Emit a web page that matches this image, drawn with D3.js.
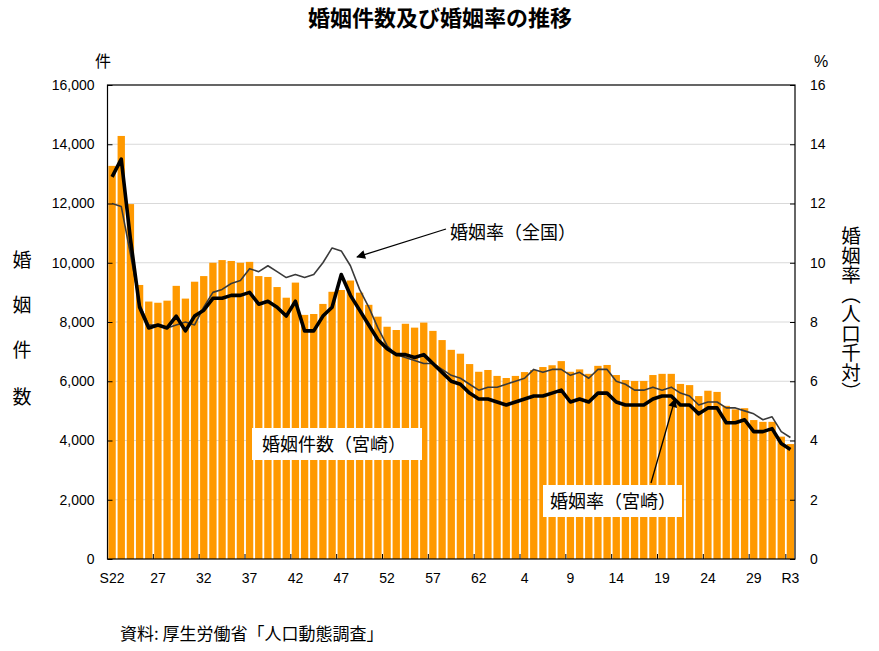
<!DOCTYPE html>
<html><head><meta charset="utf-8">
<script src="https://cdn.jsdelivr.net/npm/d3@7/dist/d3.min.js"></script>
<style>
html,body{margin:0;padding:0;background:#fff;}
svg{display:block;font-family:"Noto Sans CJK JP","Noto Sans",sans-serif;}
.num{font-family:"Liberation Sans Narrow","Arial Narrow","Liberation Sans",sans-serif;font-size:14px;}
</style></head>
<body>
<svg id="chart" width="879" height="651"></svg>
<script>
// ---- data ----
const categories = [
 "S22","S23","S24","S25","S26","S27","S28","S29","S30","S31","S32","S33","S34","S35","S36","S37","S38","S39","S40","S41",
 "S42","S43","S44","S45","S46","S47","S48","S49","S50","S51","S52","S53","S54","S55","S56","S57","S58","S59","S60","S61",
 "S62","S63","H1","H2","H3","H4","H5","H6","H7","H8","H9","H10","H11","H12","H13","H14","H15","H16","H17","H18",
 "H19","H20","H21","H22","H23","H24","H25","H26","H27","H28","H29","H30","R1","R2","R3"];
const marriagesMiyazaki = [
 13270,14280,11980,9250,8690,8650,8720,9220,8790,9360,9550,10000,10090,10060,10000,10030,9550,9520,9180,8820,
 9330,8240,8270,8610,9020,9080,9400,8990,8580,8180,7840,7730,7940,7810,7980,7700,7390,7060,6930,6580,
 6320,6380,6180,6110,6180,6310,6380,6480,6540,6680,6320,6400,6250,6520,6550,6210,6040,6010,6010,6210,
 6250,6250,5910,5870,5500,5680,5640,5170,5050,5090,4690,4630,4630,4130,3880];
const rateMiyazaki = [
 12.9,13.5,10.8,8.5,7.8,7.9,7.8,8.2,7.7,8.2,8.4,8.8,8.8,8.9,8.9,9.0,8.6,8.7,8.5,8.2,
 8.7,7.7,7.7,8.2,8.5,9.6,8.9,8.4,7.9,7.4,7.1,6.9,6.9,6.8,6.9,6.6,6.3,6.0,5.9,5.6,
 5.4,5.4,5.3,5.2,5.3,5.4,5.5,5.5,5.6,5.7,5.3,5.4,5.3,5.6,5.6,5.3,5.2,5.2,5.2,5.4,
 5.5,5.5,5.2,5.2,4.9,5.1,5.1,4.6,4.6,4.7,4.3,4.3,4.4,3.9,3.7];
const rateNational = [
 12.0,11.9,10.3,8.6,7.9,7.9,7.8,7.9,8.0,7.9,8.5,9.0,9.1,9.3,9.4,9.8,9.7,9.9,9.7,9.5,
 9.6,9.5,9.6,10.0,10.5,10.4,9.9,9.1,8.5,7.8,7.2,6.9,6.8,6.7,6.6,6.6,6.4,6.2,6.1,5.9,
 5.7,5.8,5.8,5.9,6.0,6.1,6.4,6.3,6.4,6.4,6.2,6.3,6.1,6.4,6.4,6.0,5.9,5.7,5.7,5.8,
 5.7,5.8,5.6,5.5,5.2,5.3,5.3,5.1,5.1,5.0,4.9,4.7,4.8,4.3,4.1];
const xTickCategories = ["S22","S27","S32","S37","S42","S47","S52","S57","S62","H4","H9","H14","H19","H24","H29","R3"];
const xTickLabels     = ["S22","27","32","37","42","47","52","57","62","4","9","14","19","24","29","R3"];
const leftTicks  = [0,2000,4000,6000,8000,10000,12000,14000,16000];
const rightTicks = [0,2,4,6,8,10,12,14,16];

// ---- layout ----
const L=107.5, R=795, T=85, B=559;
const svg = d3.select("#chart");

const x = d3.scaleBand().domain(categories).range([L,R]).paddingInner(0.2).paddingOuter(0.1);
const yL = d3.scaleLinear().domain([0,16000]).range([B,T]);
const yR = d3.scaleLinear().domain([0,16]).range([B,T]);
const cx = c => x(c) + x.bandwidth()/2;

// gridlines
svg.append("g").selectAll("line").data(leftTicks.filter(d=>d>0&&d<16000)).join("line")
  .attr("x1",L).attr("x2",R).attr("y1",d=>yL(d)).attr("y2",d=>yL(d))
  .attr("stroke","#d9d9d9").attr("stroke-width",1);

// bars
svg.append("g").selectAll("rect").data(categories).join("rect")
  .attr("x",c=>x(c)).attr("width",x.bandwidth())
  .attr("y",(c,i)=>yL(marriagesMiyazaki[i]))
  .attr("height",(c,i)=>B - yL(marriagesMiyazaki[i]))
  .attr("fill","#ff9900");

// lines
const line = d3.line().x(d=>cx(d.c)).y(d=>yR(d.v));
svg.append("path").datum(categories.map((c,i)=>({c,v:rateNational[i]})))
  .attr("d",line).attr("fill","none").attr("stroke","#3a3a3a").attr("stroke-width",1.6).attr("stroke-linejoin","round");
svg.append("path").datum(categories.map((c,i)=>({c,v:rateMiyazaki[i]})))
  .attr("d",line).attr("fill","none").attr("stroke","#000").attr("stroke-width",3.6).attr("stroke-linejoin","round");

// frame
svg.append("rect").attr("x",L).attr("y",T).attr("width",R-L).attr("height",B-T)
  .attr("fill","none").attr("stroke","#000").attr("stroke-width",1.2);

// left axis
const gl = svg.append("g").attr("transform",`translate(${L},0)`)
  .call(d3.axisLeft(yL).tickValues(leftTicks).tickSizeInner(-5).tickSizeOuter(0).tickPadding(13).tickFormat(d3.format(",")));
gl.select(".domain").remove();
gl.selectAll("text").attr("class","num").attr("fill","#000");
gl.selectAll("line").attr("stroke","#000");
gl.attr("font-family",null).attr("font-size",null);

// right axis
const gr = svg.append("g").attr("transform",`translate(${R},0)`)
  .call(d3.axisRight(yR).tickValues(rightTicks).tickSizeInner(-5).tickSizeOuter(0).tickPadding(15));
gr.select(".domain").remove();
gr.selectAll("text").attr("class","num").attr("fill","#000");
gr.selectAll("line").attr("stroke","#000");
gr.attr("font-family",null).attr("font-size",null);

// bottom ticks (every 5 categories, at band boundaries)
const half = x.step()*x.paddingInner()/2;
svg.append("g").selectAll("line").data(xTickCategories.slice(1)).join("line")
  .attr("x1",c=>x(c)-half).attr("x2",c=>x(c)-half).attr("y1",B).attr("y2",B-5)
  .attr("stroke","#000");
svg.append("g").selectAll("text").data(xTickCategories).join("text")
  .attr("class","num").attr("x",c=>cx(c)).attr("y",583).attr("text-anchor","middle")
  .text((c,i)=>xTickLabels[i]);

// title
svg.append("text").attr("x",440).attr("y",26).attr("text-anchor","middle")
  .attr("font-size",22).attr("font-weight","bold").text("婚姻件数及び婚姻率の推移");

// unit labels
svg.append("text").attr("x",103).attr("y",67).attr("text-anchor","middle").attr("font-size",16).text("件");
svg.append("text").attr("x",821).attr("y",67).attr("text-anchor","middle").attr("class","num").style("font-size","16px").text("%");

// left vertical label
const leftChars = ["婚","姻","件","数"];
const leftY = [258,303,348,395];
svg.append("g").selectAll("text").data(leftChars).join("text")
  .attr("x",22).attr("y",(d,i)=>leftY[i]).attr("dominant-baseline","central").attr("text-anchor","middle")
  .attr("font-size",19).text(d=>d);

// right vertical label
svg.append("text").attr("x",851).attr("y",226)
  .style("writing-mode","vertical-rl").attr("font-size",19.5)
  .text("婚姻率（人口千対）");

// annotation: national
svg.append("text").attr("x",450).attr("y",239).attr("font-size",18).text("婚姻率（全国）");
svg.append("defs").append("marker").attr("id","ah").attr("viewBox","0 0 10 10").attr("refX",9).attr("refY",5)
  .attr("markerWidth",11).attr("markerHeight",9).attr("markerUnits","userSpaceOnUse").attr("orient","auto")
  .append("path").attr("d","M0,0 L10,5 L0,10 z").attr("fill","#000");
svg.append("line").attr("x1",446).attr("y1",229).attr("x2",357).attr("y2",257)
  .attr("stroke","#000").attr("stroke-width",1.3).attr("marker-end","url(#ah)");

// annotation: Miyazaki count
svg.append("rect").attr("x",252).attr("y",428).attr("width",170).attr("height",32).attr("fill","#fff");
svg.append("text").attr("x",262).attr("y",451).attr("font-size",18).text("婚姻件数（宮崎）");

// annotation: Miyazaki rate
svg.append("line").attr("x1",651).attr("y1",483).attr("x2",675).attr("y2",399)
  .attr("stroke","#000").attr("stroke-width",1.3).attr("marker-end","url(#ah)");
svg.append("rect").attr("x",543).attr("y",485).attr("width",139).attr("height",32).attr("fill","#fff");
svg.append("text").attr("x",550).attr("y",508).attr("font-size",18).text("婚姻率（宮崎）");

// source
svg.append("text").attr("x",120).attr("y",640).attr("font-size",17).text("資料: 厚生労働省「人口動態調査」");
</script>
</body></html>
